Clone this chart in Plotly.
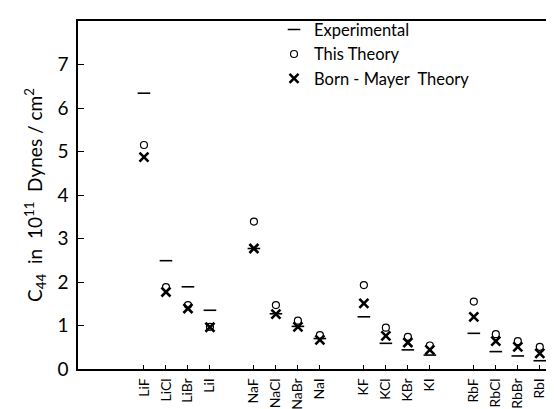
import plotly.graph_objects as go

salts = ["LiF", "LiCl", "LiBr", "LiI", "NaF", "NaCl", "NaBr", "NaI",
         "KF", "KCl", "KBr", "KI", "RbF", "RbCl", "RbBr", "RbI"]
ticklabels = ["LiF", "LiCl", "LiBr", "LiI", "NaF", "NaCl", "NaBr", "NaI",
              "KF", "KCl", "KBr", "KI", "RbF", "RbCl", "RbBr", "RbI"]
xpos = [0, 1, 2, 3, 5, 6, 7, 8, 10, 11, 12, 13, 15, 16, 17, 18]

experimental = [6.34, 2.49, 1.89, 1.35, 2.77, 1.27, 0.98, 0.70,
                1.20, 0.59, 0.44, 0.32, 0.82, 0.40, 0.30, 0.19]
this_theory = [5.15, 1.88, 1.47, 0.97, 3.39, 1.47, 1.11, 0.78,
               1.93, 0.95, 0.74, 0.54, 1.55, 0.80, 0.64, 0.51]
born_mayer = [4.87, 1.77, 1.39, 0.96, 2.77, 1.26, 0.97, 0.67,
              1.51, 0.76, 0.61, 0.44, 1.20, 0.64, 0.51, 0.36]

yticks = [0, 1, 2, 3, 4, 5, 6, 7]

font_family = "Lato, DejaVu Sans, sans-serif"

fig = go.Figure()
fig.add_trace(go.Scatter(
    x=xpos, y=experimental, mode="markers", name="Experimental",
    marker=dict(symbol="line-ew", size=9, color="black",
                line=dict(color="black", width=1.6)),
))
fig.add_trace(go.Scatter(
    x=xpos, y=this_theory, mode="markers", name="This Theory",
    marker=dict(symbol="circle-open", size=7, color="black",
                line=dict(color="black", width=1.2)),
))
fig.add_trace(go.Scatter(
    x=xpos, y=born_mayer, mode="markers", name="Born - Mayer  Theory",
    marker=dict(symbol="x-thin", size=9, color="black",
                line=dict(color="black", width=2.6)),
))

fig.update_layout(
    width=554, height=409,
    margin=dict(l=70, r=0, t=13, b=48),
    paper_bgcolor="white", plot_bgcolor="white",
    font=dict(family=font_family, color="black"),
    showlegend=True,
    legend=dict(x=0.405, y=1.025, xanchor="left", yanchor="top",
                bgcolor="rgba(0,0,0,0)", font=dict(size=16.5),
                itemwidth=30, tracegroupgap=0),
    xaxis=dict(
        range=[-3, 19.01], tickmode="array", tickvals=xpos, ticktext=ticklabels,
        tickangle=-90, ticks="inside", ticklen=4, tickcolor="black",
        ticklabelstandoff=2,
        showline=True, linecolor="black", linewidth=1.5, mirror=True,
        showgrid=False, zeroline=False, tickfont=dict(size=14),
    ),
    yaxis=dict(
        range=[0, 8], tickmode="array", tickvals=yticks,
        ticks="inside", ticklen=6, tickcolor="black", ticklabelstandoff=4,
        showline=True, linecolor="black", linewidth=1.5, mirror=False,
        showgrid=False, zeroline=False, tickfont=dict(size=19),
        title=dict(text="C<sub>44</sub>  in  10<sup>11</sup>  Dynes / cm<sup>2</sup>",
                   font=dict(size=19), standoff=10),
    ),
)

fig.write_html("out.html")
